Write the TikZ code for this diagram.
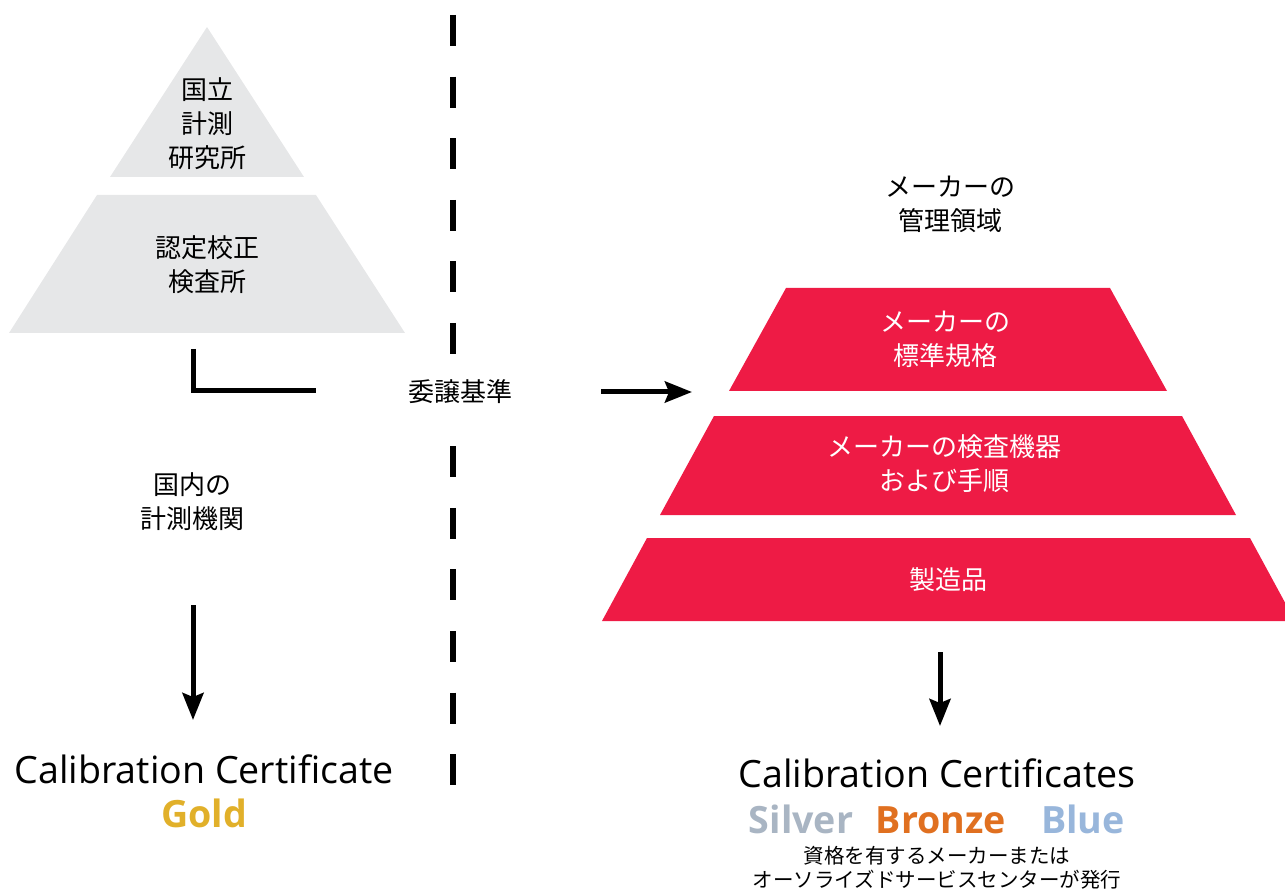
\documentclass[tikz,border=0pt]{standalone}
\usepackage{fontspec}
\setmainfont{Open Sans}
\newfontfamily\jp{Noto Sans CJK JP}
\usetikzlibrary{arrows.meta}
\definecolor{pyrgray}{HTML}{E6E7E8}
\definecolor{makerred}{HTML}{EE1B45}
\definecolor{goldtxt}{HTML}{E1B02A}
\definecolor{silvertxt}{HTML}{A9B5C3}
\definecolor{bronzetxt}{HTML}{E07020}
\definecolor{bluetxt}{HTML}{98B6DB}
\begin{document}
\begin{tikzpicture}[x=1pt, y=-1pt,
    jtext/.style={font=\jp\fontsize{26}{34}\selectfont, align=center, inner sep=0pt},
    wtext/.style={jtext, text=white},
    smalltext/.style={font=\jp\fontsize{20.5}{24}\selectfont, align=center, inner sep=0pt},
    cert/.style={font=\fontsize{37.6}{40}\selectfont, anchor=base, inner sep=0pt},
    grade/.style={font=\bfseries\fontsize{37.6}{40}\selectfont, anchor=base, inner sep=0pt},
    link/.style={line width=5pt},
    flow/.style={line width=5pt, -{Stealth[length=27pt, width=21pt, inset=4pt]}}
]
    \useasboundingbox (0,0) rectangle (1285,890);

    % national pyramid
    \fill[pyrgray] (207,27) -- (304,177) -- (110,177) -- cycle;
    \fill[pyrgray] (97,195) -- (316,195) -- (405,333) -- (9,333) -- cycle;
    \node[jtext] (nmi) at (207,124) {国立\\計測\\研究所};
    \node[jtext] (lab) at (207,265) {認定校正\\検査所};

    % maker pyramid
    \fill[makerred] (786,288) -- (1110,288) -- (1167,391) -- (729,391) -- cycle;
    \fill[makerred] (714,416) -- (1182,416) -- (1236,515) -- (660,515) -- cycle;
    \fill[makerred] (647,538) -- (1250,538) -- (1295,621) -- (602,621) -- cycle;
    \node[wtext] (std) at (945,339) {メーカーの\\標準規格};
    \node[wtext] (equip) at (944,464) {メーカーの検査機器\\および手順};
    \node[wtext] (prod) at (948,580) {製造品};

    % divider
    \coordinate (divtop) at (453,15);
    \coordinate (divbot) at (453,785);
    \draw[line width=5.5pt, dash pattern=on 31pt off 30.6pt] (divtop) -- (divbot);
    \node[jtext, fill=white, minimum height=62pt] (deleg) at (460,392) {委譲基準};

    \node[jtext] (domestic) at (192,502) {国内の\\計測機関};
    \node[jtext] (area) at (950,204) {メーカーの\\管理領域};

    % connectors
    \coordinate (ltop) at (193,349);
    \coordinate (lend) at (316,391);
    \draw[link] (ltop) |- (lend);
    \coordinate (hstart) at (601,392);
    \coordinate (hend) at (692,392);
    \draw[flow] (hstart) -- (hend);
    \coordinate (lstart) at (193,605);
    \coordinate (ltip) at (193,720);
    \draw[flow] (lstart) -- (ltip);
    \coordinate (rstart) at (940,652);
    \coordinate (rtip) at (940,726);
    \draw[flow] (rstart) -- (rtip);

    % certificates
    \node[cert] (certl) at (204,783) {Calibration Certificate};
    \node[grade, text=goldtxt] (gold) at (204,827) {Gold};
    \node[cert] (certr) at (937,787) {Calibration Certificates};
    \node[grade, text=silvertxt] (silver) at (801,833) {Silver};
    \node[grade, text=bronzetxt] (bronze) at (941,833) {Bronze};
    \node[grade, text=bluetxt] (blue) at (1083,833) {Blue};
    \node[smalltext] (issuer) at (937,868) {資格を有するメーカーまたは\\オーソライズドサービスセンターが発行};
\end{tikzpicture}
\end{document}
